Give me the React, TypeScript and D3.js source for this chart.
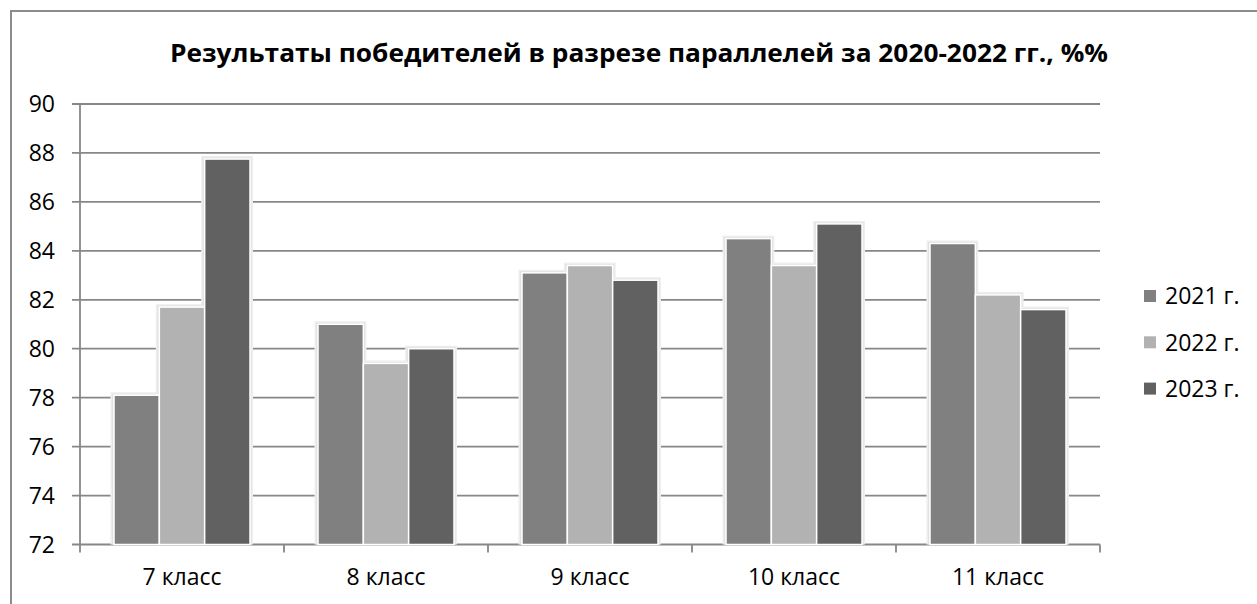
import React from "react";
import * as d3 from "d3";

const categories = ["7 класс", "8 класс", "9 класс", "10 класс", "11 класс"];
const seriesNames = ["2021 г.", "2022 г.", "2023 г."];
const values2021 = [78.1, 81.0, 83.1, 84.5, 84.3];
const values2022 = [81.7, 79.4, 83.4, 83.4, 82.2];
const values2023 = [87.75, 80.0, 82.8, 85.1, 81.6];
const yTicks = [72, 74, 76, 78, 80, 82, 84, 86, 88, 90];
const colors = ["#808080", "#b2b2b2", "#616161"];
const title = "Результаты победителей в разрезе параллелей за 2020-2022 гг., %%";

const W = 1257;
const H = 604;
const plot = { left: 80, right: 1100, top: 104, bottom: 544.5 };
const font = "'Open Sans', 'Noto Sans', sans-serif";

export default function App() {
  const series = [values2021, values2022, values2023];
  const x0 = d3.scaleBand<string>().domain(categories).range([plot.left, plot.right]).paddingInner(0).paddingOuter(0);
  const bw = x0.bandwidth();
  const barW = bw / 4.5;
  const y = d3.scaleLinear().domain([72, 90]).range([plot.bottom, plot.top]);
  const boundaries = d3.range(categories.length + 1).map((i) => plot.left + i * bw);

  return (
    <svg width={W} height={H} style={{ position: "absolute", left: 0, top: 0, background: "#fff" }}>
      <rect x={11} y={11} width={W + 20} height={H + 20} fill="#fff" stroke="#8c8c8c" strokeWidth={2} />
      <text x={639} y={62} textAnchor="middle" fontFamily={font} fontWeight={700} fontSize={25.5} fill="#000"
        textLength={938} lengthAdjust="spacingAndGlyphs">
        {title}
      </text>
      {yTicks.map((t) => (
        <g key={t}>
          <line x1={plot.left - 8} x2={plot.right} y1={y(t)} y2={y(t)} stroke="#878787" strokeWidth={1.8} />
          <text x={55} y={y(t)} dy="0.36em" textAnchor="end" fontFamily={font} fontSize={23} fill="#000">
            {t}
          </text>
        </g>
      ))}
      <line x1={plot.left} x2={plot.left} y1={plot.top} y2={plot.bottom} stroke="#878787" strokeWidth={1.8} />
      {boundaries.map((b, i) => (
        <line key={i} x1={b} x2={b} y1={plot.bottom} y2={plot.bottom + 8} stroke="#878787" strokeWidth={1.8} />
      ))}
      {categories.map((c, ci) =>
        series.map((s, si) => {
          const bx = (x0(c) as number) + barW * 0.75 + si * barW;
          const by = y(s[ci]);
          return (
            <g key={c + si}>
              <rect x={bx - 3.5} y={by - 3} width={barW + 6.5} height={plot.bottom - by + 3} fill="#eeeeee" />
              <rect x={bx - 2} y={by - 1.5} width={barW + 3.5} height={plot.bottom - by + 1.5} fill="#e2e2e2" />
            </g>
          );
        })
      )}
      {categories.map((c, ci) =>
        series.map((s, si) => {
          const bx = (x0(c) as number) + barW * 0.75 + si * barW;
          const by = y(s[ci]);
          return (
            <rect key={c + si} x={bx} y={by} width={barW} height={plot.bottom - by} fill={colors[si]} stroke="#fff" strokeWidth={1.5} />
          );
        })
      )}
      {categories.map((c) => (
        <text key={c} x={(x0(c) as number) + bw / 2} y={585} textAnchor="middle" fontFamily={font} fontSize={23} fill="#000">
          {c}
        </text>
      ))}
      {seriesNames.map((n, i) => (
        <g key={n}>
          <rect x={1144} y={290 + i * 46.3} width={12} height={12} fill={colors[i]} />
          <text x={1165} y={296 + i * 46.3} dy="0.36em" fontFamily={font} fontSize={23} fill="#000">
            {n}
          </text>
        </g>
      ))}
    </svg>
  );
}
